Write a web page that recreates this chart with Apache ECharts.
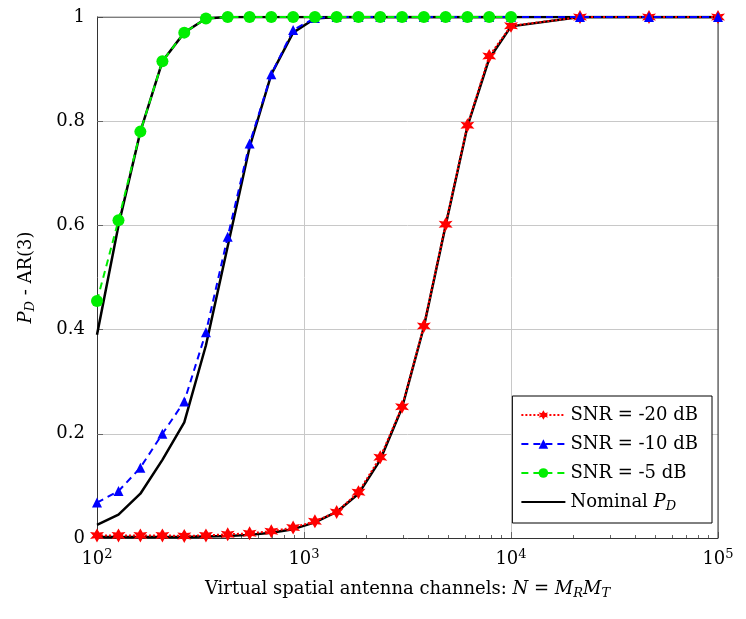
<!DOCTYPE html>
<html><head><meta charset="utf-8">
<script src="https://cdn.jsdelivr.net/npm/echarts@6/dist/echarts.min.js"></script>
<style>html,body{margin:0;padding:0;background:#fff}#myChart{width:746px;height:619px}</style>
</head><body><div id="myChart"></div>
<script>
// antenna channel counts: 20 log-spaced points from 1e2 to 1e4, then three more
const channels = [100, 127, 162, 207, 264, 336, 428, 546, 695, 886, 1129, 1438, 1833, 2336, 2976, 3793, 4833, 6158, 7848, 10000, 21544, 46416, 100000];

const snrMinus20 = [0.005, 0.005, 0.005, 0.005, 0.004, 0.005, 0.007, 0.009, 0.013, 0.02, 0.032, 0.05, 0.088, 0.155, 0.252, 0.407, 0.602, 0.792, 0.925, 0.983, 1, 1, 1];
const snrMinus10 = [0.068, 0.09, 0.135, 0.2, 0.262, 0.395, 0.578, 0.757, 0.89, 0.975, 0.998, 1, 1, 1, 1, 1, 1, 1, 1, 1, 1, 1, 1];
const snrMinus5 = [0.455, 0.61, 0.78, 0.915, 0.97, 0.997, 1, 1, 1, 1, 1, 1, 1, 1, 1, 1, 1, 1, 1, 1];

const nominal20 = [0.002, 0.002, 0.002, 0.002, 0.002, 0.003, 0.004, 0.006, 0.01, 0.017, 0.03, 0.05, 0.085, 0.15, 0.25, 0.405, 0.6, 0.79, 0.92, 0.982, 1, 1, 1];
const nominal10 = [0.025, 0.045, 0.085, 0.15, 0.222, 0.37, 0.56, 0.75, 0.89, 0.97, 0.997, 1, 1, 1, 1, 1, 1, 1, 1, 1, 1, 1, 1];
const nominal5 = [0.39, 0.6, 0.78, 0.915, 0.97, 0.997, 1, 1, 1, 1, 1, 1, 1, 1, 1, 1, 1, 1, 1, 1];

const yTicks = [0, 0.2, 0.4, 0.6, 0.8, 1];

const pairs = (ys) => ys.map((y, i) => [channels[i], y]);
const font = "'DejaVu Serif', 'Liberation Serif', serif";
const star = 'path://M0,-10 L3,-4 L9,-5 L5,0 L9,5 L3,4 L0,10 L-3,4 L-9,5 L-5,0 L-9,-5 L-3,-4 Z';

let myChart = echarts.init(document.getElementById("myChart"));

const sup = { fontSize: 13, verticalAlign: 'top', padding: [0, 0, 9, 0], fontFamily: font, color: '#000' };
const base = { fontSize: 18, fontFamily: font, color: '#000' };
const ital = { fontSize: 18, fontFamily: font, fontStyle: 'italic', color: '#000' };
const sub = { fontSize: 13, fontFamily: font, fontStyle: 'italic', color: '#000', verticalAlign: 'bottom', padding: [9, 0, 0, 0] };

let nominalStyle = { type: 'line', name: 'Nominal PD', symbol: 'none', z: 3, lineStyle: { color: '#000', width: 2.5 }, itemStyle: { color: '#000' } };

let option = {
  animation: false,
  grid: { left: 97, right: 28, top: 17, bottom: 81 },
  legend: {
    right: 34, bottom: 96, orient: 'vertical', itemWidth: 44, itemHeight: 12, itemGap: 11,
    backgroundColor: '#fff', borderColor: '#000', borderWidth: 1, padding: [10, 14, 10, 8],
    data: ['SNR = -20 dB', 'SNR = -10 dB', 'SNR = -5 dB', { name: 'Nominal PD', itemStyle: { opacity: 0 } }],
    formatter: (n) => n === 'Nominal PD' ? '{b|Nominal }{i|P}{s|D}' : '{b|' + n + '}',
    textStyle: { rich: { b: base, i: ital, s: sub } }
  },
  xAxis: {
    type: 'log', logBase: 10, min: 100, max: 100000,
    name: '{b|Virtual spatial antenna channels: }{i|N}{b| = }{i|M}{s|R}{i|M}{s|T}',
    nameLocation: 'middle', nameGap: 40,
    nameTextStyle: { rich: { b: base, i: ital, s: sub } },
    axisLine: { lineStyle: { color: '#333', width: 1 } },
    axisTick: { inside: true, length: 6, lineStyle: { color: '#666' } },
    minorTick: { show: true, splitNumber: 9, length: 3, lineStyle: { color: '#666' } },
    splitLine: { show: true, lineStyle: { color: '#c8c8c8' } },
    axisLabel: { margin: 10, formatter: (v) => '{b|10}{p|' + Math.round(Math.log10(v)) + '}', rich: { b: base, p: sup } }
  },
  yAxis: {
    type: 'value', min: 0, max: 1, interval: 0.2,
    name: '{i|P}{s|D}{b| - AR(3)}', nameLocation: 'middle', nameGap: 60, nameRotate: 90,
    nameTextStyle: { rich: { b: base, i: ital, s: sub } },
    axisLine: { show: true, lineStyle: { color: '#333' } },
    axisTick: { inside: true, length: 6, lineStyle: { color: '#666' } },
    splitLine: { lineStyle: { color: '#c8c8c8' } },
    axisLabel: { fontSize: 18, fontFamily: font, color: '#000', margin: 12,
      formatter: (v) => yTicks.includes(v) ? (v === 0 || v === 1 ? String(v) : v.toFixed(1)) : '' }
  },
  series: [
    Object.assign({}, nominalStyle, { data: pairs(nominal20) }),
    Object.assign({}, nominalStyle, { data: pairs(nominal10) }),
    Object.assign({}, nominalStyle, { data: pairs(nominal5) }),
    { type: 'line', name: 'SNR = -20 dB', data: pairs(snrMinus20), symbol: star, symbolSize: 14, z: 4,
      lineStyle: { color: '#ff0000', width: 2, type: 'dotted' }, itemStyle: { color: '#ff0000' } },
    { type: 'line', name: 'SNR = -10 dB', data: pairs(snrMinus10), symbol: 'triangle', symbolSize: 10, z: 4,
      lineStyle: { color: '#0000ff', width: 2, type: [7, 5] }, itemStyle: { color: '#0000ff' } },
    { type: 'line', name: 'SNR = -5 dB', data: pairs(snrMinus5), symbol: 'circle', symbolSize: 12, z: 4,
      lineStyle: { color: '#00ee00', width: 2, type: [7, 5] }, itemStyle: { color: '#00ee00' } },
    // box on top and right
    { type: 'line', data: [[100, 1], [100000, 1], [100000, 0]], symbol: 'none', silent: true, z: 1,
      lineStyle: { color: '#333', width: 1 } }
  ]
};

myChart.setOption(option);
</script></body></html>
